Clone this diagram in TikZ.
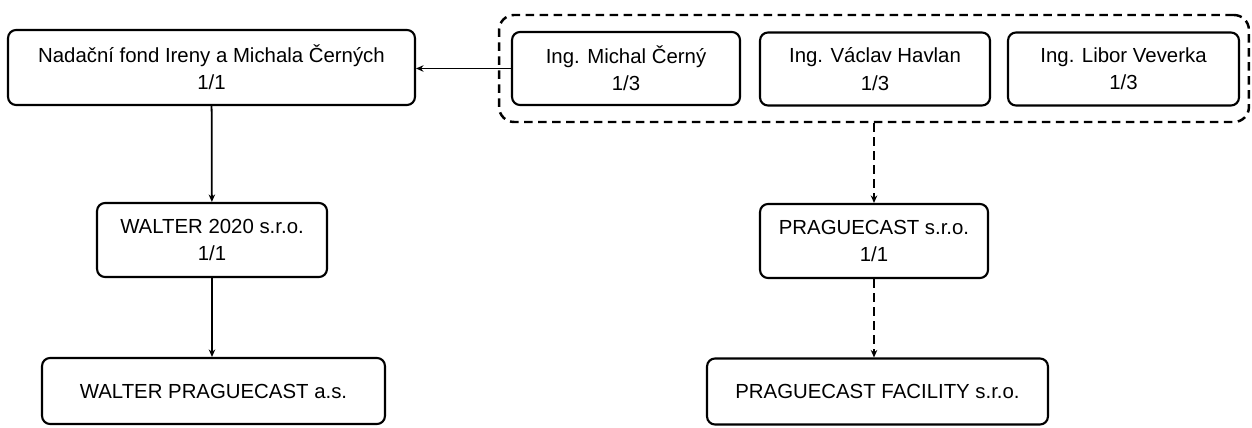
\documentclass[tikz,border=0pt]{standalone}
\usepackage{fontspec}
\setmainfont{Liberation Sans}
\usepackage{tikz}
\usetikzlibrary{arrows.meta,positioning}

\begin{document}
\begin{tikzpicture}[
    x=0.02cm, y=-0.02cm,
    entity/.style={rectangle, draw, rounded corners=0.16cm, fill=white,
                  line width=1.2pt, font=\fontsize{11.6}{15.5}\selectfont,
                  align=center, inner sep=0pt},
    arr/.style={-{Stealth[length=1.5mm, width=1.3mm]}, line width=1pt},
    darr/.style={arr, dash pattern=on 0.17cm off 0.11cm},
]
    \useasboundingbox (0,0) rectangle (1252,428);
    % group of owners
    \node[draw, rounded corners=0.3cm, line width=1.4pt,
          dash pattern=on 0.17cm off 0.11cm,
          minimum width=15cm, minimum height=2.14cm] (group) at (874,68.5) {};
    \node[entity, minimum width=4.56cm, minimum height=1.46cm] (michal) at (626,68.5) {Ing. Michal Černý\\1/3};
    \node[entity, minimum width=4.6cm, minimum height=1.46cm] (vaclav) at (875,69) {Ing. Václav Havlan\\1/3};
    \node[entity, minimum width=4.62cm, minimum height=1.46cm] (libor) at (1123.5,69) {Ing. Libor Veverka\\1/3};

    % left branch
    \node[entity, minimum width=8.14cm, minimum height=1.5cm] (fond) at (211.5,67.5) {Nadační fond Ireny a Michala Černých\\1/1};
    \node[entity, minimum width=4.6cm, minimum height=1.48cm] (walter) at (212,240) {WALTER 2020 s.r.o.\\1/1};
    \node[entity, minimum width=6.86cm, minimum height=1.32cm] (wpc) at (213.5,391) {WALTER PRAGUECAST a.s.};

    % right branch
    \node[entity, minimum width=4.56cm, minimum height=1.48cm] (pcast) at (874,241) {PRAGUECAST s.r.o.\\1/1};
    \node[entity, minimum width=6.82cm, minimum height=1.32cm] (facility) at (877.5,391.5) {PRAGUECAST FACILITY s.r.o.};

    \draw[arr] (michal.west) -- (fond.east |- michal.west);
    \draw[arr] (fond) -- (walter);
    \draw[arr] (walter) -- (wpc.north -| walter.south);
    \draw[darr] (group.south) -- (pcast);
    \draw[darr] (pcast.south) -- (pcast.south |- facility.north);
\end{tikzpicture}
\end{document}
